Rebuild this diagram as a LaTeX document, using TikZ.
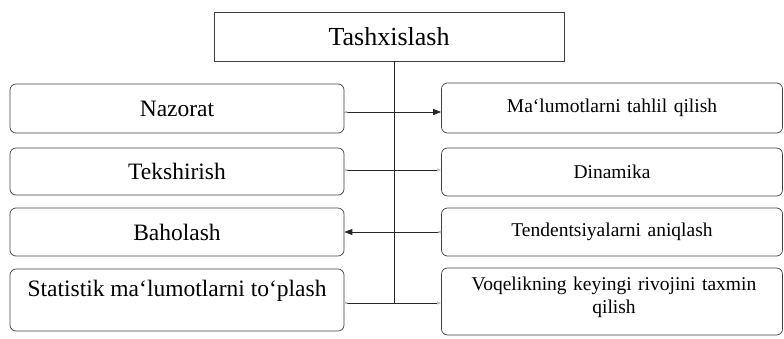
\documentclass[tikz,border=0pt]{standalone}
\usepackage{fontspec}
\setmainfont{Liberation Serif}
\usetikzlibrary{arrows.meta}
\begin{document}
\begin{tikzpicture}[x=1pt,y=-1pt,
  box/.style={draw=black!75,line width=0.7pt,rounded corners=6pt,inner sep=2pt},
  topbox/.style={draw=black!75,line width=0.7pt,inner sep=2pt},
  ltext/.style={font=\fontsize{23.5}{26}\selectfont},
  rtext/.style={font=\fontsize{19.5}{23}\selectfont,align=center,text width=330pt},
  conn/.style={line width=0.8pt,black!85},
  big/.style={-{Triangle[length=8pt,width=6pt]}},
  faintend/.style={-{Triangle[length=4pt,width=3pt,fill=black!25,color=black!25]}},
  faintstart/.style={{Triangle[length=4pt,width=3pt,fill=black!25,color=black!25,reversed]}-}]
\useasboundingbox (0,0) rectangle (784,338);
\node[topbox,minimum width=350pt,minimum height=49pt,font=\fontsize{26}{30}\selectfont] (T) at (389,36.5) {Tashxislash};
% left
\node[box,ltext,minimum width=334pt,minimum height=49pt] (L1) at (177,108.5) {Nazorat};
\node[box,ltext,minimum width=334pt,minimum height=47pt] (L2) at (177,171.5) {Tekshirish};
\node[box,ltext,minimum width=334pt,minimum height=48pt] (L3) at (177,232) {Baholash};
\node[box,minimum width=334pt,minimum height=62pt] (L4) at (177,300) {};
\node[ltext] (L4t) at (177,291) {Statistik ma`lumotlarni to`plash};
% right
\node[box,rtext,minimum width=341pt,minimum height=50pt] (R1) at (612,108) {Ma`lumotlarni tahlil qilish};
\node[box,rtext,minimum width=341pt,minimum height=48pt] (R2) at (612,172) {Dinamika};
\node[box,rtext,minimum width=341pt,minimum height=48pt] (R3) at (612,232) {Tendentsiyalarni aniqlash};
\node[box,minimum width=341pt,minimum height=67pt] (R4) at (612,301.5) {};
\node[rtext] (R4t) at (614,297) {Voqelikning keyingi rivojini taxmin\\[0pt] qilish};
% connectors
\coordinate (v0) at (394,61);
\coordinate (r1) at (394,112);
\coordinate (r2) at (394,170);
\coordinate (r3) at (394,232);
\coordinate (r4) at (394,303);
\draw[conn] (T.south -| v0) -- (r4);
\draw[conn,big] (L1.east |- r1) -- (R1.west |- r1);
\draw[conn,faintstart] (L1.east |- r1) -- (r1);
\draw[conn,faintstart] (L2.east |- r2) -- (r2);
\draw[conn,faintend] (r2) -- (R2.west |- r2);
\draw[conn,big] (R3.west |- r3) -- (L3.east |- r3);
\draw[conn,faintstart] (R3.west |- r3) -- (r3);
\draw[conn,faintstart] (L4.east |- r4) -- (r4);
\draw[conn,faintend] (r4) -- (R4.west |- r4);
\end{tikzpicture}
\end{document}
